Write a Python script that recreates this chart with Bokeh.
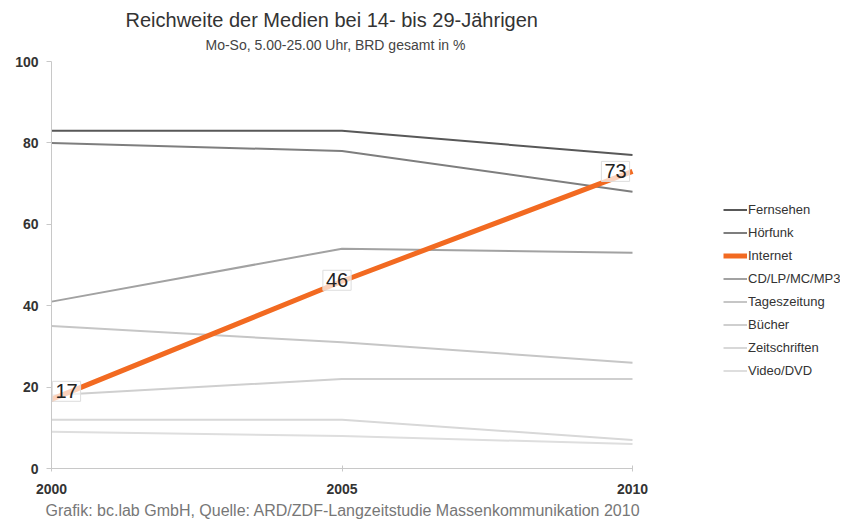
from bokeh.plotting import figure
from bokeh.models import Range1d, FixedTicker, Title, Legend, LegendItem, Label
from bokeh.embed import file_html
from bokeh.resources import INLINE

# ---- data ----
years = [2000, 2005, 2010]
series_names = ["Fernsehen", "Hörfunk", "Internet", "CD/LP/MC/MP3",
                "Tageszeitung", "Bücher", "Zeitschriften", "Video/DVD"]
fernsehen = [83, 83, 77]
hoerfunk = [80, 78, 68]
internet = [17, 46, 73]
cd_mp3 = [41, 54, 53]
tageszeitung = [35, 31, 26]
buecher = [18, 22, 22]
zeitschriften = [12, 12, 7]
video_dvd = [9, 8, 6]
y_ticks = [0, 20, 40, 60, 80, 100]
x_ticks = [2000, 2005, 2010]

title_text = "Reichweite der Medien bei 14- bis 29-Jährigen"
subtitle_text = "Mo-So, 5.00-25.00 Uhr, BRD gesamt in %"
caption_text = "Grafik: bc.lab GmbH, Quelle: ARD/ZDF-Langzeitstudie Massenkommunikation 2010"

# ---- layout / styles ----
FONT = "Liberation Sans"
W, H = 845, 521
LEFT, RIGHT_PAD, TOP, BOTTOM = 51, 5, 61, 53
DATA_RIGHT_PX = 632          # pixel where the last year sits
values = [fernsehen, hoerfunk, internet, cd_mp3, tageszeitung, buecher, zeitschriften, video_dvd]
colors = ["#585858", "#7e7e7e", "#f26a21", "#a2a2a2", "#c6c6c6", "#cfcfcf", "#d8d8d8", "#dedede"]
widths = [2, 2, 5, 2, 2, 2, 2, 2]

# the frame extends past the last year to leave room for the legend
x0, x1 = years[0], years[-1]
px_per_unit = (DATA_RIGHT_PX - LEFT) / (x1 - x0)
frame_right = W - RIGHT_PAD
x_end = x1 + (frame_right - DATA_RIGHT_PX) / px_per_unit

p = figure(width=W, height=H, output_backend="svg", toolbar_location=None,
           x_range=Range1d(x0, x_end), y_range=Range1d(y_ticks[0], y_ticks[-1]), title=None,
           min_border_left=LEFT, min_border_right=RIGHT_PAD, min_border_top=TOP,
           min_border_bottom=BOTTOM)
p.outline_line_color = None
p.grid.visible = False
p.background_fill_color = "white"

sub = Title(text=subtitle_text, align="left", offset=154, text_font=FONT,
            text_font_size="14px", text_font_style="normal", text_color="#444444", standoff=17)
main = Title(text=title_text, align="left", offset=74, text_font=FONT,
             text_font_size="20px", text_font_style="normal", text_color="#333333", standoff=-8)
p.add_layout(sub, "above")
p.add_layout(main, "above")

order = [0, 1, 3, 4, 5, 6, 7, 2]
rmap = {}
for i in order:
    rmap[i] = p.line(years, values[i], line_color=colors[i], line_width=widths[i])

items = [LegendItem(label=series_names[i], renderers=[rmap[i]]) for i in range(len(series_names))]
legend = Legend(items=items, location=(723 - LEFT, 89), border_line_color=None,
                background_fill_alpha=0, padding=0, margin=0, spacing=6,
                glyph_width=24, glyph_height=17, label_height=17, label_standoff=1,
                label_text_font=FONT, label_text_font_size="13px", label_text_color="#333333")
p.add_layout(legend, "center")

# data labels for internet
lbl_dx = [15, -5, -17]
lbl_dy = [8, 1, 0]
for k in range(len(years)):
    p.add_layout(Label(x=years[k], y=internet[k], text=str(internet[k]),
                       x_offset=lbl_dx[k], y_offset=lbl_dy[k],
                       text_align="center", text_baseline="middle",
                       text_font=FONT, text_font_size="20px", text_color="#222222",
                       background_fill_color="white", background_fill_alpha=0.7,
                       border_line_color="#dddddd", border_line_width=1, padding=3))

for ax in (p.xaxis[0], p.yaxis[0]):
    ax.axis_line_color = "#c8c8c8"
    ax.major_tick_line_color = "#c8c8c8"
    ax.minor_tick_line_color = None
    ax.major_label_text_font = FONT
    ax.major_label_text_font_size = "14px"
    ax.major_label_text_font_style = "bold"
    ax.major_label_text_color = "#333333"

p.yaxis.ticker = FixedTicker(ticks=y_ticks)
p.yaxis.major_tick_out = 5
p.yaxis.major_tick_in = 0
p.yaxis.major_label_standoff = 8

p.xaxis.ticker = FixedTicker(ticks=x_ticks)
p.xaxis.bounds = (x0, x1)
p.xaxis.major_tick_out = 3
p.xaxis.major_tick_in = 3
p.xaxis.major_label_standoff = 12

cap = Title(text=caption_text, align="left", offset=-6, text_font=FONT,
            text_font_size="16px", text_font_style="normal", text_color="#777777", standoff=6)
p.add_layout(cap, "below")

open("out.html", "w").write(file_html(p, INLINE))
